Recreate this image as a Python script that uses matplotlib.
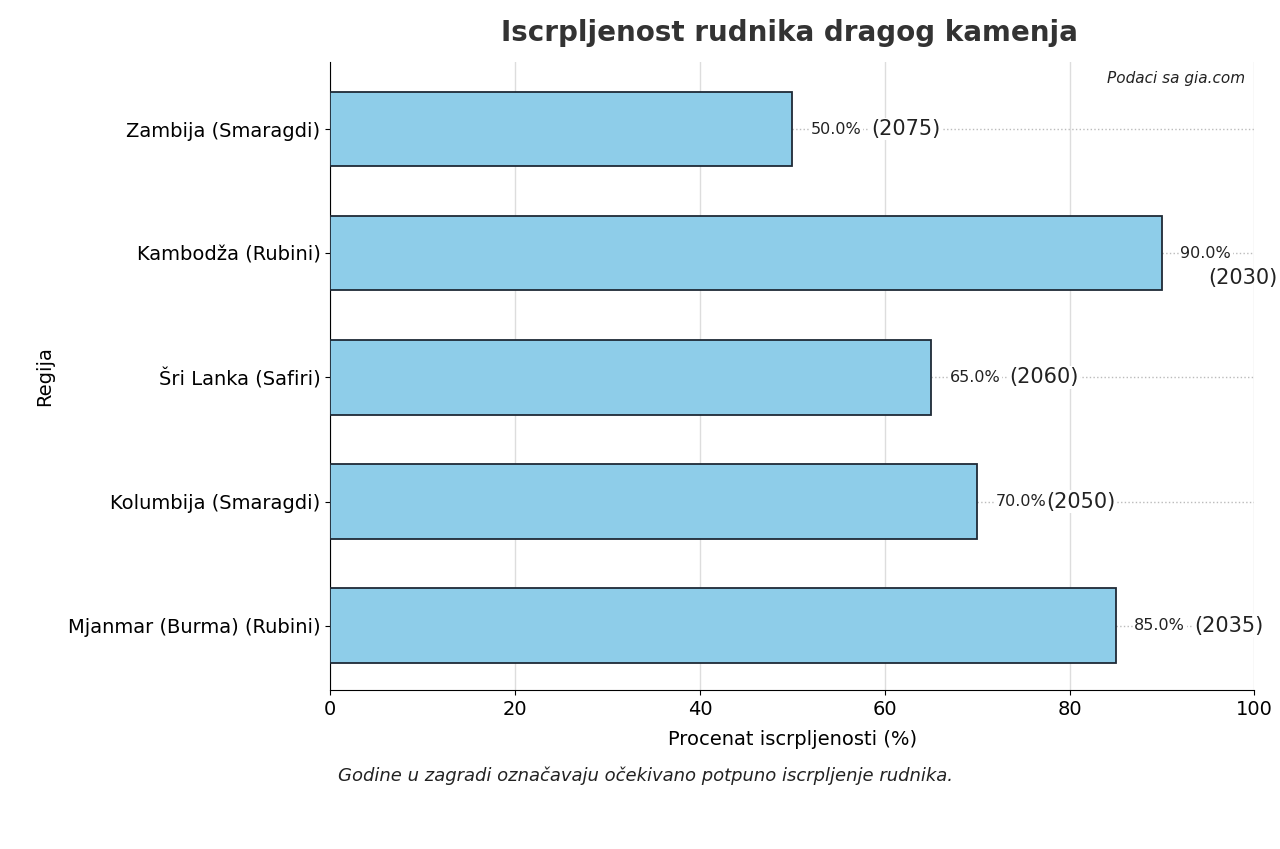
import matplotlib.pyplot as plt

regions = ["Mjanmar (Burma) (Rubini)", "Kolumbija (Smaragdi)", "Šri Lanka (Safiri)",
           "Kambodža (Rubini)", "Zambija (Smaragdi)"]
depletion = [85, 70, 65, 90, 50]
years = ["2035", "2050", "2060", "2030", "2075"]

fig = plt.figure(figsize=(12.8, 8.49), dpi=100)
ax = fig.add_axes([0.258, 0.187, 0.722, 0.740])

ypos = list(range(len(regions)))
ax.barh(ypos, depletion, height=0.6, color="#8ecde9", edgecolor="#1f2a36", linewidth=1.3, zorder=3)

for y, v, yr in zip(ypos, depletion, years):
    ax.plot([v, 100], [y, y], ls=":", color="#bbbbbb", lw=1, zorder=1)
    ax.text(v + 2, y, f"{v:.1f}%", va="center", ha="left", fontsize=11.5, color="#222222", zorder=4,
            bbox=dict(facecolor="white", edgecolor="none", pad=1))
    if yr == "2030":
        ax.text(v + 5, y - 0.2, f"({yr})", va="center", ha="left", fontsize=15, color="#222222", zorder=4)
    else:
        ax.text(v + 8.5 if v != 70 else v + 7.5, y, f"({yr})", va="center", ha="left", fontsize=15,
                color="#222222", zorder=4, bbox=dict(facecolor="white", edgecolor="none", pad=1))

ax.set_xlim(0, 100)
ax.set_ylim(-0.52, 4.54)
ax.set_yticks(ypos)
ax.set_yticklabels(regions, fontsize=14)
ax.set_xticks([0, 20, 40, 60, 80, 100])
ax.tick_params(axis="x", labelsize=14)
ax.grid(axis="x", color="#dddddd", lw=1, zorder=0)
ax.spines["top"].set_visible(False)
ax.spines["right"].set_visible(False)
ax.set_xlabel("Procenat iscrpljenosti (%)", fontsize=14, labelpad=8)
ax.set_ylabel("Regija", fontsize=14, labelpad=10)

fig.text(0.617, 0.978, "Iscrpljenost rudnika dragog kamenja", ha="center", va="top",
         fontsize=20, fontweight="bold", color="#333333")
ax.text(0.99, 0.985, "Podaci sa gia.com", transform=ax.transAxes, ha="right", va="top",
        fontsize=11, style="italic", color="#222222")
fig.text(0.504, 0.086, "Godine u zagradi označavaju očekivano potpuno iscrpljenje rudnika.",
         ha="center", va="center", fontsize=13, style="italic", color="#222222")

fig.savefig("out.png", dpi=100)
